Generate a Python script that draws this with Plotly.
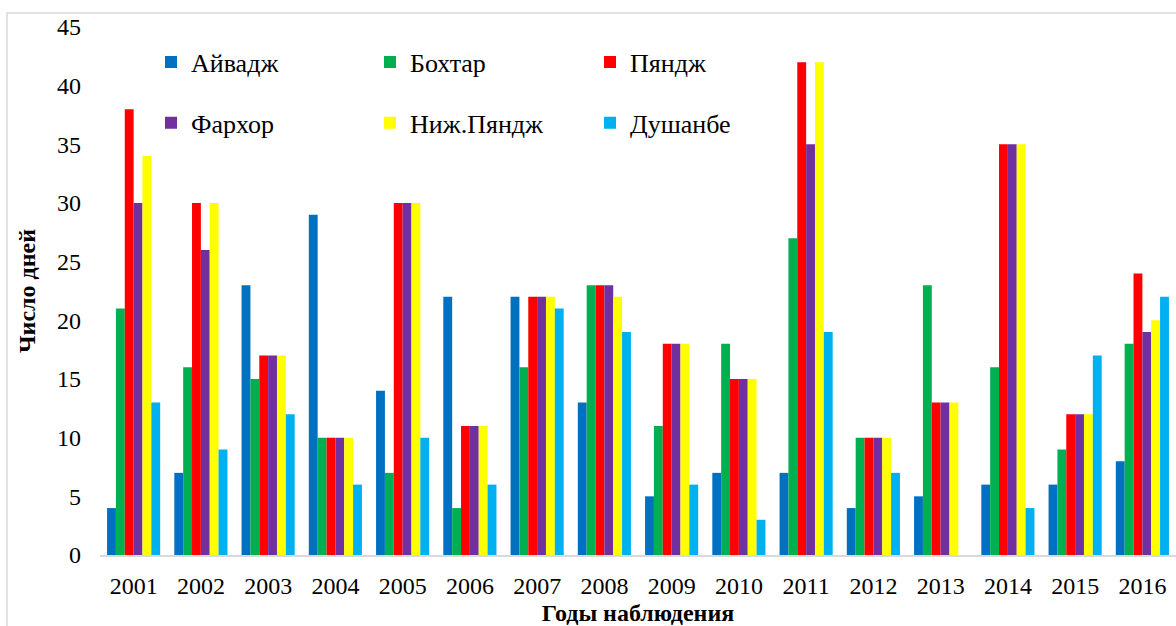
import plotly.graph_objects as go

years = ["2001", "2002", "2003", "2004", "2005", "2006", "2007", "2008",
         "2009", "2010", "2011", "2012", "2013", "2014", "2015", "2016"]

aivadzh   = [4, 7, 23, 29, 14, 22, 22, 13, 5, 7, 7, 4, 5, 6, 6, 8]
bokhtar   = [21, 16, 15, 10, 7, 4, 16, 23, 11, 18, 27, 10, 23, 16, 9, 18]
pyandzh   = [38, 30, 17, 10, 30, 11, 22, 23, 18, 15, 42, 10, 13, 35, 12, 24]
farkhor   = [30, 26, 17, 10, 30, 11, 22, 23, 18, 15, 35, 10, 13, 35, 12, 19]
nizh_pyandzh = [34, 30, 17, 10, 30, 11, 22, 22, 18, 15, 42, 10, 13, 35, 12, 20]
dushanbe  = [13, 9, 12, 6, 10, 6, 21, 19, 6, 3, 19, 7, 0, 4, 17, 22]

series = [
    ("Айвадж", aivadzh, "#0070C0", "legend"),
    ("Бохтар", bokhtar, "#00B050", "legend2"),
    ("Пяндж", pyandzh, "#FF0000", "legend3"),
    ("Фархор", farkhor, "#7030A0", "legend"),
    ("Ниж.Пяндж", nizh_pyandzh, "#FFFF00", "legend2"),
    ("Душанбе", dushanbe, "#00B0F0", "legend3"),
]

FONT = "Liberation Serif"

fig = go.Figure()
for name, vals, color, leg in series:
    fig.add_trace(go.Bar(
        x=years, y=vals, name=name,
        marker=dict(color=color, line=dict(width=0)),
        legend=leg, legendgroup=name,
    ))

W, H = 1176, 626
L, R, T, B = 100, 0, 27, 71

def px_to_paper_x(px):
    return (px - L) / (W - L - R)

def px_to_paper_y(py):
    return (H - B - py) / (H - T - B)

def make_legend(px_left):
    return go.layout.Legend(
        orientation="v",
        font=go.layout.legend.Font(family=FONT, size=26, color="#000000"),
        bgcolor="rgba(0,0,0,0)",
        yanchor="middle",
        xanchor="left",
        x=px_to_paper_x(px_left),
        y=px_to_paper_y(92.5),
        tracegroupgap=24,
        itemclick=False,
        itemdoubleclick=False,
    )

fig.update_layout(
    width=W, height=H,
    margin=dict(l=L, r=R, t=T, b=B, autoexpand=False),
    paper_bgcolor="white",
    plot_bgcolor="white",
    barmode="group",
    bargap=0.21,
    bargroupgap=0,
    font=dict(family=FONT, color="#000000"),
    legend=make_legend(151),
    legend2=make_legend(370),
    legend3=make_legend(590),
    xaxis=dict(
        type="category",
        showline=True, linecolor="#D9D9D9", linewidth=2,
        showgrid=False, ticks="", zeroline=False,
        tickfont=dict(family=FONT, size=24, color="#000000"),
        ticklabelstandoff=8,
        title=dict(text="<b>Годы наблюдения</b>",
                   font=dict(family=FONT, size=24, color="#000000"),
                   standoff=6),
    ),
    yaxis=dict(
        range=[0, 45], dtick=5,
        showline=False, showgrid=False, zeroline=False, ticks="",
        tickfont=dict(family=FONT, size=24, color="#000000"),
        ticklabelstandoff=18,
        title=dict(text="<b>Число дней</b>",
                   font=dict(family=FONT, size=24, color="#000000"),
                   standoff=14),
    ),
    shapes=[dict(
        type="rect", xref="paper", yref="paper",
        x0=px_to_paper_x(7), x1=px_to_paper_x(1190),
        y0=px_to_paper_y(640), y1=px_to_paper_y(13),
        line=dict(color="#D9D9D9", width=1.5),
        fillcolor="rgba(0,0,0,0)", layer="below",
    )],
)

fig.write_html(
    "out.html",
    config={"displayModeBar": False, "staticPlot": True},
    post_script="document.body.style.margin='0';document.body.style.overflow='hidden';",
)
